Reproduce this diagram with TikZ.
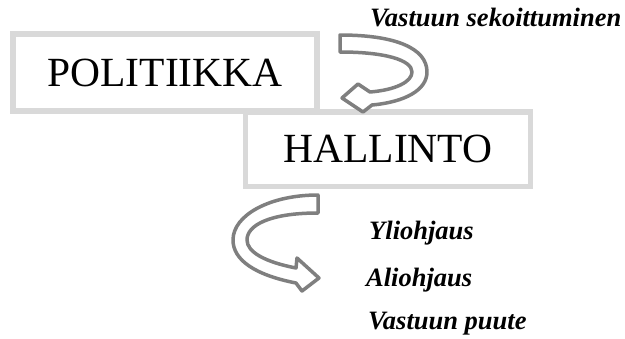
\documentclass[tikz,border=0pt]{standalone}
\usepackage{fontspec}
\setmainfont{Liberation Serif}
\definecolor{boxgray}{HTML}{D9D9D9}
\definecolor{arrgray}{HTML}{7F7F7F}
\begin{document}
\begin{tikzpicture}[x=1pt,y=-1pt,
  box/.style={draw=boxgray, line width=5.5pt, fill=white, inner sep=0pt,
    font=\fontsize{41.5}{48}\selectfont},
  lbl/.style={anchor=base west, inner sep=0pt,
    font=\fontsize{26.5}{31}\selectfont\bfseries\itshape},
  carrow/.style={draw=arrgray, line width=3.5pt, fill=white, line join=round}]
\useasboundingbox (0,0) rectangle (625,338);
\node[box, minimum width=304pt, minimum height=77pt] (pol) at (165,72.5) {POLITIIKKA};
\node[box, minimum width=285pt, minimum height=74.5pt] (hal) at (388,149.25) {HALLINTO};
% top curved arrow
\draw[carrow] (340,35) -- (340,52)
  .. controls (385,52) and (412,60) .. (412,72)
  .. controls (412,82) and (395,90) .. (370,92)
  -- (358,84) -- (342,98) -- (363,112) -- (372,105)
  .. controls (405,102) and (427,90) .. (427,72)
  .. controls (427,48) and (395,35) .. (340,35) -- cycle;
% bottom curved arrow
\draw[carrow] (318,195) -- (318,213)
  .. controls (270,213) and (247,225) .. (247,240)
  .. controls (247,252) and (265,262) .. (296,268)
  -- (297,258) -- (319,278) -- (302,291) -- (296,283)
  .. controls (255,275) and (233,260) .. (233,240)
  .. controls (233,215) and (270,195) .. (318,195) -- cycle;
\node[lbl] (l0) at (370,26) {Vastuun sekoittuminen};
\node[lbl] (l1) at (369,239) {Yliohjaus};
\node[lbl] (l2) at (366,286) {Aliohjaus};
\node[lbl] (l3) at (368,329) {Vastuun puute};
\end{tikzpicture}
\end{document}
